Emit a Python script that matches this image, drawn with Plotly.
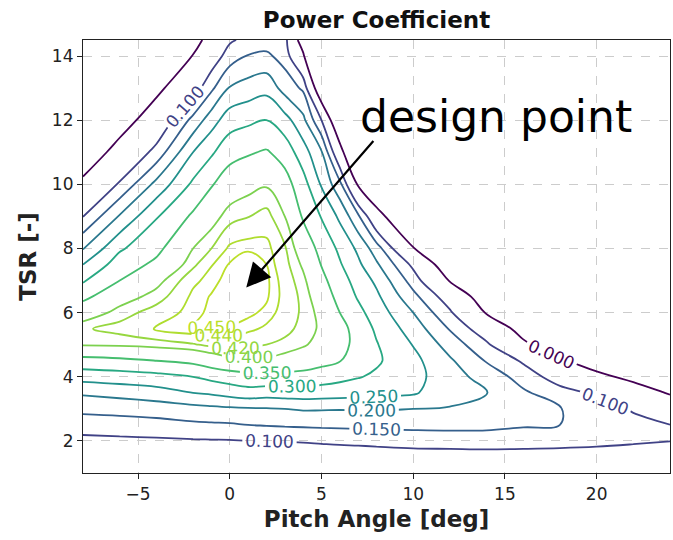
import plotly.graph_objects as go
from plotly.colors import sample_colorscale

# ---- data ----
pitch = [-8, -6, -4, -2, -1, 0, 1, 2, 3, 4, 5, 6, 7, 8, 10, 12, 14, 16, 18, 20, 22, 24]
tsr = [1, 2, 2.5, 3, 3.5, 4, 4.5, 5, 5.5, 6, 6.5, 7, 7.5, 8, 9, 10, 11, 12, 13, 14, 14.5]

# Cp along TSR for each pitch column
cp_p_m8 = [0.03, 0.086, 0.124, 0.163, 0.207, 0.27, 0.334, 0.403, 0.417, 0.379, 0.338, 0.294, 0.25, 0.197, 0.099, 0.019, -0.06, -0.14, -0.22, -0.30, -0.34]
cp_p_m6 = [0.03, 0.089, 0.128, 0.167, 0.217, 0.277, 0.34, 0.405, 0.428, 0.41, 0.385, 0.35, 0.325, 0.293, 0.205, 0.107, 0.033, -0.04, -0.11, -0.19, -0.23]
cp_p_m4 = [0.03, 0.092, 0.132, 0.174, 0.229, 0.285, 0.35, 0.41, 0.442, 0.43, 0.41, 0.39, 0.36, 0.338, 0.296, 0.215, 0.118, 0.048, -0.02, -0.09, -0.13]
cp_p_m2 = [0.03, 0.095, 0.141, 0.183, 0.25, 0.30, 0.362, 0.418, 0.451, 0.446, 0.444, 0.436, 0.415, 0.40, 0.358, 0.31, 0.25, 0.165, 0.07, 0.003, -0.03]
cp_p_m1 = [0.03, 0.096, 0.143, 0.188, 0.258, 0.314, 0.378, 0.425, 0.450, 0.453, 0.451, 0.446, 0.439, 0.42, 0.387, 0.346, 0.293, 0.228, 0.14, 0.065, 0.03]
cp_p_0 = [0.03, 0.097, 0.145, 0.192, 0.27, 0.326, 0.39, 0.432, 0.449, 0.455, 0.457, 0.455, 0.451, 0.444, 0.412, 0.378, 0.332, 0.278, 0.204, 0.125, 0.092]
cp_p_1 = [0.03, 0.10, 0.15, 0.195, 0.28, 0.335, 0.393, 0.425, 0.444, 0.453, 0.457, 0.457, 0.454, 0.449, 0.419, 0.39, 0.345, 0.29, 0.222, 0.153, 0.115]
cp_p_2 = [0.03, 0.10, 0.153, 0.197, 0.273, 0.338, 0.395, 0.42, 0.437, 0.447, 0.452, 0.453, 0.450, 0.446, 0.428, 0.397, 0.355, 0.30, 0.235, 0.16, 0.125]
cp_p_3 = [0.03, 0.102, 0.156, 0.20, 0.276, 0.335, 0.387, 0.414, 0.427, 0.433, 0.435, 0.433, 0.428, 0.423, 0.40, 0.37, 0.33, 0.27, 0.18, 0.13, 0.12]
cp_p_4 = [0.03, 0.104, 0.158, 0.205, 0.279, 0.334, 0.376, 0.404, 0.413, 0.416, 0.414, 0.407, 0.395, 0.38, 0.345, 0.32, 0.272, 0.213, 0.142, 0.015, -0.05]
cp_p_5 = [0.03, 0.107, 0.16, 0.204, 0.276, 0.325, 0.365, 0.388, 0.395, 0.39, 0.377, 0.363, 0.348, 0.335, 0.297, 0.245, 0.205, 0.10, -0.08, -0.25, -0.32]
cp_p_6 = [0.03, 0.110, 0.161, 0.203, 0.273, 0.314, 0.352, 0.368, 0.37, 0.35, 0.335, 0.322, 0.305, 0.29, 0.24, 0.165, 0.04, -0.10, -0.22, -0.35, -0.41]
cp_p_7 = [0.03, 0.112, 0.162, 0.204, 0.27, 0.303, 0.327, 0.333, 0.327, 0.313, 0.295, 0.28, 0.26, 0.24, 0.16, -0.01, -0.16, -0.28, -0.39, -0.50, -0.55]
cp_p_8 = [0.03, 0.115, 0.163, 0.205, 0.264, 0.292, 0.307, 0.303, 0.293, 0.277, 0.26, 0.24, 0.208, 0.174, 0.04, -0.10, -0.22, -0.33, -0.44, -0.55, -0.60]
cp_p_10 = [0.03, 0.121, 0.164, 0.20, 0.256, 0.268, 0.264, 0.248, 0.227, 0.20, 0.165, 0.128, 0.087, 0.005, -0.13, -0.25, -0.36, -0.47, -0.58, -0.68, -0.73]
cp_p_12 = [0.03, 0.123, 0.165, 0.197, 0.218, 0.218, 0.207, 0.18, 0.146, 0.108, 0.068, -0.005, -0.06, -0.11, -0.22, -0.33, -0.44, -0.55, -0.65, -0.75, -0.80]
cp_p_14 = [0.03, 0.125, 0.163, 0.19, 0.201, 0.183, 0.146, 0.11, 0.062, -0.006, -0.05, -0.095, -0.14, -0.18, -0.27, -0.37, -0.47, -0.57, -0.67, -0.77, -0.82]
cp_p_16 = [0.03, 0.123, 0.155, 0.168, 0.158, 0.128, 0.093, 0.015, -0.03, -0.07, -0.11, -0.15, -0.19, -0.23, -0.31, -0.40, -0.50, -0.60, -0.70, -0.80, -0.85]
cp_p_18 = [0.03, 0.120, 0.150, 0.153, 0.12, 0.074, 0.007, -0.05, -0.09, -0.13, -0.17, -0.21, -0.25, -0.29, -0.37, -0.45, -0.55, -0.65, -0.75, -0.85, -0.90]
cp_p_20 = [0.03, 0.115, 0.125, 0.118, 0.09, 0.015, -0.03, -0.07, -0.11, -0.15, -0.19, -0.23, -0.27, -0.31, -0.39, -0.47, -0.57, -0.67, -0.77, -0.87, -0.92]
cp_p_22 = [0.03, 0.108, 0.112, 0.096, 0.03, -0.015, -0.05, -0.09, -0.13, -0.17, -0.21, -0.25, -0.29, -0.33, -0.41, -0.49, -0.59, -0.69, -0.79, -0.89, -0.94]
cp_p_24 = [0.03, 0.101, 0.101, 0.04, -0.005, -0.04, -0.07, -0.11, -0.15, -0.19, -0.23, -0.27, -0.31, -0.35, -0.43, -0.51, -0.61, -0.71, -0.81, -0.91, -0.96]

levels = [0.0, 0.1, 0.15, 0.2, 0.25, 0.3, 0.35, 0.4, 0.42, 0.44, 0.45]
x_ticks = [-5, 0, 5, 10, 15, 20]
x_tick_text = ["\u22125", "0", "5", "10", "15", "20"]
y_ticks = [2, 4, 6, 8, 10, 12, 14]
y_tick_text = ["2", "4", "6", "8", "10", "12", "14"]

columns = [cp_p_m8, cp_p_m6, cp_p_m4, cp_p_m2, cp_p_m1, cp_p_0, cp_p_1, cp_p_2, cp_p_3,
           cp_p_4, cp_p_5, cp_p_6, cp_p_7, cp_p_8, cp_p_10, cp_p_12, cp_p_14, cp_p_16,
           cp_p_18, cp_p_20, cp_p_22, cp_p_24]
z = [[col[i] for col in columns] for i in range(len(tsr))]

FONT = "DejaVu Sans"
fig = go.Figure()
for lev in levels:
    c = sample_colorscale("Viridis", [lev / 0.5])[0]
    fig.add_trace(go.Contour(
        x=pitch, y=tsr, z=z,
        autocontour=False,
        contours=dict(start=lev, end=lev, size=0.01, coloring="lines",
                      showlabels=True, labelformat=".3f",
                      labelfont=dict(size=17, color=c, family=FONT)),
        colorscale=[[0, c], [1, c]],
        showscale=False,
        line=dict(width=1.8, smoothing=1.1),
        hoverinfo="skip",
    ))

axis_common = dict(
    automargin=False,
    showgrid=True, gridcolor="#cccccc", griddash="dash", gridwidth=1,
    showline=True, linecolor="#222", linewidth=1.2, mirror=True,
    ticks="outside", ticklen=5, tickcolor="#222", tickwidth=1.2,
    tickfont=dict(size=17, color="#222", family=FONT),
    zeroline=False,
)

fig.update_layout(
    width=673, height=540,
    margin=dict(l=83, r=3, t=40, b=67, autoexpand=False),
    paper_bgcolor="white", plot_bgcolor="white",
    font=dict(family=FONT, color="#222"),
    title=dict(text="<b>Power Coefficient</b>", x=0.5, xanchor="center",
               xref="paper", y=1 - 20 / 540, yanchor="middle", yref="container",
               font=dict(size=23, family=FONT, color="#111")),
    xaxis=dict(range=[-8, 24], tickvals=x_ticks, ticktext=x_tick_text,
               title=dict(text="<b>Pitch Angle [deg]</b>", font=dict(size=23, family=FONT), standoff=8),
               **axis_common),
    yaxis=dict(range=[1, 14.5], tickvals=y_ticks, ticktext=y_tick_text,
               title=dict(text="<b>TSR [-]</b>", font=dict(size=23, family=FONT), standoff=8),
               **axis_common),
    showlegend=False,
)

fig.add_annotation(x=14.5, y=12.1, xref="x", yref="y", text="design point",
                   showarrow=False, font=dict(size=44, family=FONT, color="black"))
fig.add_annotation(x=0.9, y=6.78, ax=7.9, ay=11.4, xref="x", yref="y", axref="x", ayref="y",
                   text="", showarrow=True, arrowhead=2, arrowsize=2.2, arrowwidth=2.2,
                   arrowcolor="black")

fig.write_html("out.html", config={"displayModeBar": False},
               post_script="document.body.style.margin='0px';")
